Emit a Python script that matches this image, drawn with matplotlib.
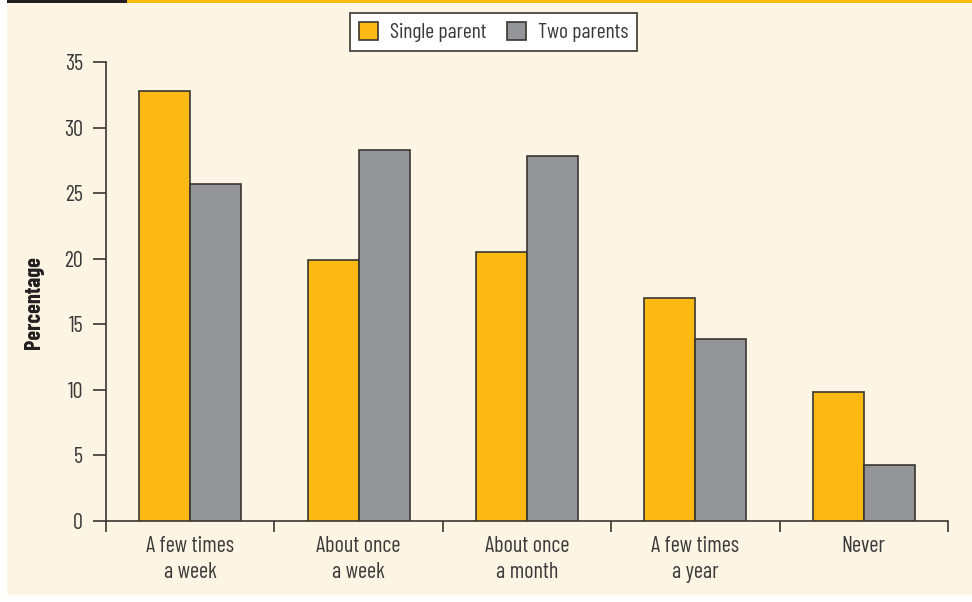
import matplotlib.pyplot as plt
import matplotlib.patches as mpatches
import numpy as np

categories = ["A few times\na week", "About once\na week", "About once\na month",
              "A few times\na year", "Never"]
single_parent = [32.8, 19.9, 20.5, 17.0, 9.8]
two_parents = [25.7, 28.3, 27.8, 13.9, 4.3]
yticks = [0, 5, 10, 15, 20, 25, 30, 35]

YELLOW = "#FDB913"
GRAY = "#939598"
CREAM = "#FDF5E4"
DARK = "#231F20"
TEXT = "#3A3A3A"
EDGE = "#3A3530"

FONTS = ["Barlow Condensed", "Roboto Condensed", "DejaVu Sans"]
plt.rcParams["font.family"] = FONTS

W, H = 972, 602
PX = 72 / 100  # points per pixel at 100 dpi
fig = plt.figure(figsize=(W / 100, H / 100), dpi=100)
fig.patch.set_facecolor("white")

# cream panel with the header stripe
for (x0, y0, x1, y1, col) in [(7, 3, W, 595, CREAM), (7, 0, 127, 3, DARK), (127, 0, W, 3, YELLOW)]:
    fig.patches.append(mpatches.Rectangle((x0 / W, 1 - y1 / H), (x1 - x0) / W, (y1 - y0) / H,
                                          transform=fig.transFigure, facecolor=col,
                                          edgecolor="none", zorder=-10))

ax = fig.add_axes([106 / W, 1 - 521 / H, (948 - 106) / W, (521 - 62) / H])
ax.set_zorder(1)
ax.set_facecolor("none")

x = np.arange(len(categories))
bw = 0.303
ax.bar(x - bw / 2, single_parent, bw, color=YELLOW, edgecolor=EDGE, linewidth=1.2,
       label="Single parent", zorder=3)
ax.bar(x + bw / 2, two_parents, bw, color=GRAY, edgecolor=EDGE, linewidth=1.2,
       label="Two parents", zorder=3)

ax.set_xlim(-0.5, len(categories) - 0.5)
ax.set_ylim(0, 35)
ax.set_yticks(yticks)
ax.set_yticklabels([str(v) for v in yticks])

# category labels centred, ticks at the boundaries
ax.set_xticks(np.arange(-0.5, len(categories), 1.0))
ax.set_xticklabels([])
ax.set_xticks(x, minor=True)
ax.set_xticklabels(categories, minor=True)
ax.tick_params(axis="x", which="minor", length=0, pad=15 * PX, labelsize=16, colors=TEXT)
ax.tick_params(axis="x", which="major", length=11 * PX, width=1.2, color=EDGE, direction="out")
ax.tick_params(axis="y", length=13 * PX, width=1.2, color=EDGE, labelsize=16,
               labelcolor=TEXT, pad=10 * PX)
for lbl in ax.get_xticklabels(minor=True):
    lbl.set_linespacing(1.3)

for side in ("top", "right"):
    ax.spines[side].set_visible(False)
for side in ("left", "bottom"):
    ax.spines[side].set_color(EDGE)
    ax.spines[side].set_linewidth(1.2)

ax.set_ylabel("Percentage", fontsize=16, fontweight="bold", color=DARK)
ax.yaxis.set_label_coords((44 - 106) / (948 - 106), (521 - 303) / (521 - 62))

leg = fig.legend(loc="upper center", bbox_to_anchor=(493.5 / W, 1 - 13 / H), ncol=2,
                 fontsize=15.5, frameon=True, fancybox=False, edgecolor=EDGE,
                 framealpha=1, handlelength=0.88, handleheight=0.88, handletextpad=0.55,
                 columnspacing=0.95, borderpad=0.42, borderaxespad=0, labelcolor=TEXT)
leg.get_frame().set_linewidth(1.2)

fig.savefig("out.png", dpi=100, facecolor=fig.get_facecolor())
